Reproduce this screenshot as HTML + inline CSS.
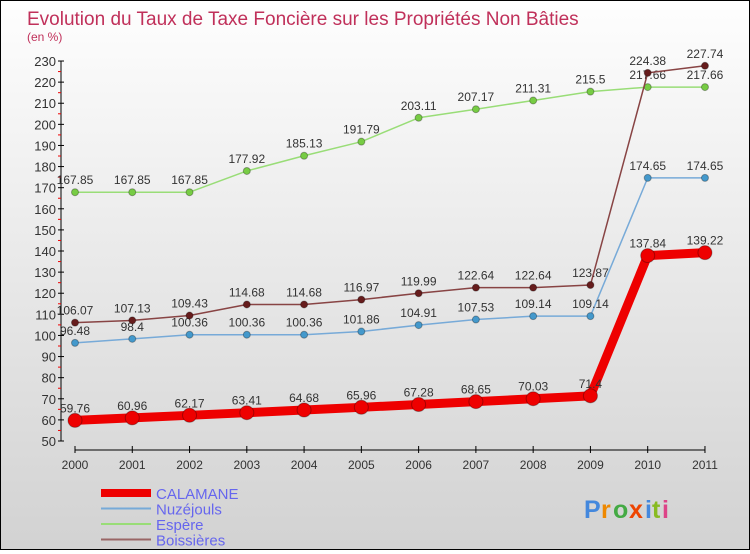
<!DOCTYPE html>
<html><head><meta charset="utf-8"><style>
body{margin:0;width:750px;height:550px;overflow:hidden;font-family:"Liberation Sans",sans-serif}
#wrap{position:relative;width:748px;height:548px;border:1px solid #000;background:linear-gradient(#fefefe,#d2d2d2)}
</style></head><body>
<div id="wrap">
<svg id="c" width="748" height="548"></svg>
</div>
<script>
const years=[2000,2001,2002,2003,2004,2005,2006,2007,2008,2009,2010,2011];
const calamane=[59.76,60.96,62.17,63.41,64.68,65.96,67.28,68.65,70.03,71.4,137.84,139.22];
const nuzejouls=[96.48,98.4,100.36,100.36,100.36,101.86,104.91,107.53,109.14,109.14,174.65,174.65];
const espere=[167.85,167.85,167.85,177.92,185.13,191.79,203.11,207.17,211.31,215.5,217.66,217.66];
const boissieres=[106.07,107.13,109.43,114.68,114.68,116.97,119.99,122.64,122.64,123.87,224.38,227.74];
const yTicks=[50,60,70,80,90,100,110,120,130,140,150,160,170,180,190,200,210,220,230];
const NS="http://www.w3.org/2000/svg";
const svg=document.getElementById('c');
function X(i){return 74+i*57.27;}
function Y(v){return 440-(v-50)*2.111;}
function el(t,a,p){const e=document.createElementNS(NS,t);for(const k in a)e.setAttribute(k,a[k]);(p||svg).appendChild(e);return e;}
function txt(s,a){const e=el('text',a);e.textContent=s;return e;}
let t=txt('Evolution du Taux de Taxe Foncière sur les Propriétés Non Bâties',{x:26,y:24,'font-size':19,fill:'#c0305a'});

t=txt('(en %)',{x:26,y:40,'font-size':12,fill:'#c0305a'});

let ax=el('line',{x1:60,y1:Y(230),x2:60,y2:Y(50),stroke:'#000'});

yTicks.forEach(v=>{el('line',{x1:57,x2:63,y1:Y(v),y2:Y(v),stroke:'#000'});
 if(v<230)el('line',{x1:57,x2:60,y1:Y(v+5),y2:Y(v+5),stroke:'#e00'});
 const l=txt(v,{x:55,y:Y(v)+5,'font-size':13,fill:'#333','text-anchor':'end'});
 });
ax=el('line',{x1:X(0),y1:449,x2:X(11),y2:449,stroke:'#000'});

years.forEach((y,i)=>{el('line',{x1:X(i),x2:X(i),y1:445,y2:452,stroke:'#000'});
 const l=txt(y,{x:X(i),y:468,'font-size':12,fill:'#333','text-anchor':'middle'});
 });
function series(d,col,dot,w,r,name){
 const g=el('g',{});
 el('polyline',{points:d.map((v,i)=>X(i)+','+Y(v)).join(' '),fill:'none',stroke:col,'stroke-width':w,'stroke-linejoin':'round'},g);
 d.forEach((v,i)=>{const c=el('circle',{cx:X(i),cy:Y(v),r:r,fill:dot,stroke:'rgba(0,0,0,0.3)'},g);
  
  const l=txt(String(v),{x:X(i),y:Y(v)-8,'font-size':12,fill:'#333','text-anchor':'middle'},g);
  });
}
series(espere,'#99dd77','#77cc44',1.5,3.5,'espere');
series(nuzejouls,'#77aad8','#4499cc',1.5,3.5,'nuzejouls');
series(boissieres,'#884444','#661c1c',1.5,3.5,'boissieres');
series(calamane,'#ee0000','#ee0000',9,7,'calamane');
const leg=[['CALAMANE','#ee0000',8],['Nuzéjouls','#77aad8',2],['Espère','#99dd77',2],['Boissières','#996666',2]];
leg.forEach((l,i)=>{const g=el('g',{});
 const yy=492+i*15.5;el('line',{x1:100,x2:150,y1:yy,y2:yy,stroke:l[1],'stroke-width':l[2]},g);
 txt(l[0],{x:155,y:yy+6,'font-size':15,fill:'#6666ee'},g);});
const lg=el('g',{});
[['P','#4488dd'],['r','#ee8800'],['o','#44aa44'],['x','#ee4400'],['i','#4488dd'],['t','#88bb22'],['i','#dd4488']].forEach((c,i)=>{
 txt(c[0],{x:583+[0,17,29,45,61,68,78][i],y:517,'font-size':25,'font-weight':'bold',fill:c[1]},lg);});
</script></body></html>
